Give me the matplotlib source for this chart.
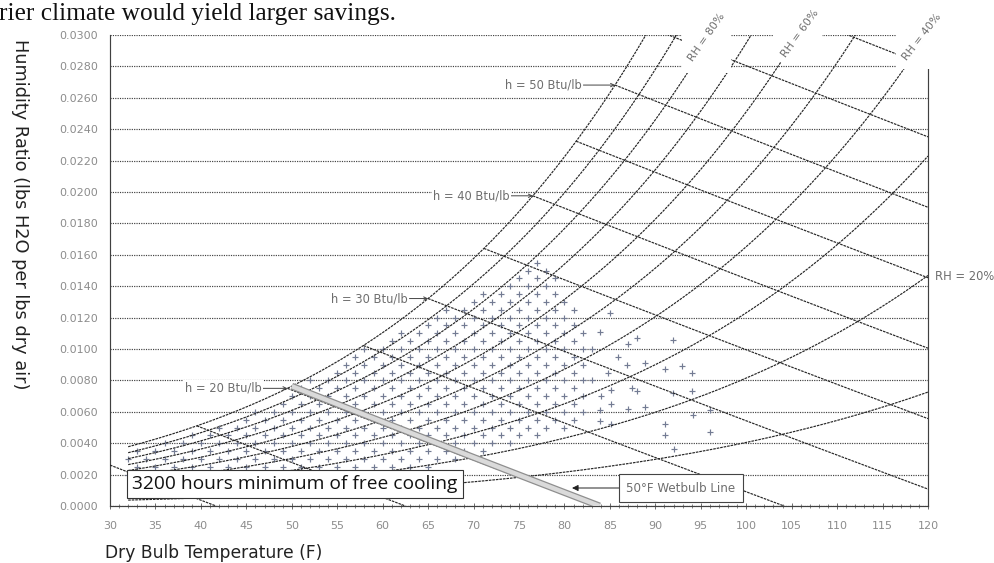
import numpy as np
import matplotlib
matplotlib.use("Agg")
import matplotlib.pyplot as plt
from matplotlib.patches import Rectangle

# ---------------- data ----------------
rh_levels = [0.1, 0.2, 0.3, 0.4, 0.5, 0.6, 0.7, 0.8, 0.9, 1.0]
h_levels = [10, 15, 20, 25, 30, 35, 40, 45, 50, 55, 60]
h_labelled = [20, 30, 40, 50]
wetbulb_temp = 50

x_ticks = list(range(30, 121, 5))
y_ticks = [0.000, 0.002, 0.004, 0.006, 0.008, 0.010, 0.012, 0.014, 0.016,
           0.018, 0.020, 0.022, 0.024, 0.026, 0.028, 0.030]

# weather-hour bins (dense region), per dry-bulb column: lowest / highest humidity bin
bin_temps = list(range(32, 83))
bin_w_low = [0.0020] * 34 + [0.0026, 0.0028, 0.0030, 0.0030,
             0.0032, 0.0033, 0.0035, 0.0036, 0.0038, 0.0040, 0.0042,
             0.0044, 0.0046, 0.0048, 0.0050, 0.0052, 0.0055]
bin_w_high = [0.0035, 0.0036, 0.0038, 0.0040, 0.0041, 0.0043, 0.0045, 0.0046,
              0.0048, 0.0050, 0.0052, 0.0053, 0.0055, 0.0058, 0.0060, 0.0063,
              0.0066, 0.0070, 0.0074, 0.0077, 0.0080, 0.0084, 0.0088, 0.0091,
              0.0094, 0.0097, 0.0100, 0.0103, 0.0106, 0.0109, 0.0111, 0.0113,
              0.0116, 0.0119, 0.0122, 0.0125, 0.0128, 0.0130, 0.0132, 0.0135,
              0.0138, 0.0142, 0.0146, 0.0150, 0.0153, 0.0155, 0.0155, 0.0145,
              0.0135, 0.0125, 0.0118]
bin_w_step = 0.0005

# sparse hours at high dry-bulb
sparse_t = [83.0, 83.0, 83.9, 83.9, 83.9, 84.0, 84.8, 85.0, 85.1, 85.1, 85.1,
            85.9, 86.9, 87.0, 87.0, 87.4, 88.0, 88.0, 88.9, 88.9, 91.1, 91.1,
            91.1, 91.9, 91.9, 92.1, 92.9, 94.0, 94.0, 94.1, 96.0, 96.0]
sparse_w = [0.0100, 0.0080, 0.0111, 0.0061, 0.0054, 0.0070, 0.0085, 0.0123,
            0.0074, 0.0065, 0.0052, 0.0095, 0.0090, 0.0103, 0.0062, 0.0075,
            0.0107, 0.0073, 0.0091, 0.0063, 0.0087, 0.0052, 0.0045, 0.0106,
            0.0072, 0.0036, 0.0089, 0.0085, 0.0073, 0.0058, 0.0061, 0.0047]

# ---------------- psychrometrics ----------------
P_ATM = 14.696


def p_sat(t_f):
    tr = np.asarray(t_f, dtype=float) + 459.67
    c8, c9, c10 = -1.0440397e4, -1.1294650e1, -2.7022355e-2
    c11, c12, c13 = 1.2890360e-5, -2.4780681e-9, 6.5459673
    return np.exp(c8 / tr + c9 + c10 * tr + c11 * tr ** 2 + c12 * tr ** 3 + c13 * np.log(tr))


def w_rh(t_f, rh):
    pw = rh * p_sat(t_f)
    return 0.622 * pw / (P_ATM - pw)


def enthalpy(t_f, w):
    return 0.240 * t_f + w * (1061 + 0.444 * t_f)


def t_sat_for_h(h):
    lo, hi = -20.0, 150.0
    for _ in range(80):
        mid = 0.5 * (lo + hi)
        if enthalpy(mid, w_rh(mid, 1.0)) > h:
            hi = mid
        else:
            lo = mid
    return 0.5 * (lo + hi)


# ---------------- figure ----------------
W_PX, H_PX = 995, 563
fig = plt.figure(figsize=(W_PX / 100, H_PX / 100), dpi=100)
ax = fig.add_axes([110 / W_PX, 1 - 506 / H_PX, (928 - 110) / W_PX, (506 - 35) / H_PX])
ax.set_xlim(30, 120)
ax.set_ylim(0, 0.030)

line_col = "#262626"
grid_col = "#404040"
dot_style = (0, (1, 1))
dash_style = (0, (2.2, 0.8))

ax.set_axisbelow(True)
ax.set_yticks(y_ticks)
ax.set_yticklabels([f"{v:.4f}" for v in y_ticks])
ax.set_xticks(x_ticks)
ax.set_xticklabels([str(v) for v in x_ticks])
ax.set_xticks(range(30, 121), minor=True)
ax.yaxis.grid(True, linestyle=dot_style, color=grid_col, linewidth=0.85)
ax.tick_params(axis="y", length=0, pad=8.5, labelsize=8, labelcolor="#8c8c8c")
ax.tick_params(axis="x", which="major", direction="inout", length=4, width=0.6,
               color="#555555", pad=9, labelsize=8, labelcolor="#8c8c8c")
ax.tick_params(axis="x", which="minor", direction="inout", length=2.5, width=0.5,
               color="#555555")
for s in ["left", "right", "bottom"]:
    ax.spines[s].set_linestyle(dot_style)
    ax.spines[s].set_color(grid_col)
    ax.spines[s].set_linewidth(0.85)
ax.spines["top"].set_visible(False)

# scatter of hours
pts_t, pts_w = [], []
for t, lo, hi in zip(bin_temps, bin_w_low, bin_w_high):
    k0 = 1 if t % 2 else 0
    k = int(np.ceil(lo / bin_w_step))
    while k * bin_w_step <= hi + 1e-9:
        if k % 2 == k0:
            pts_t.append(t)
            pts_w.append(k * bin_w_step)
        k += 1
pts_t += sparse_t
pts_w += sparse_w
ax.scatter(pts_t, pts_w, marker="+", s=17, linewidths=0.85, color="#737b93", zorder=2)

# RH curves
t_curve = np.linspace(32, 120, 500)
for rh in rh_levels:
    ax.plot(t_curve, w_rh(t_curve, rh), color=line_col, lw=0.85, ls=dash_style, zorder=3)

# enthalpy lines
for h in h_levels:
    t0 = max(t_sat_for_h(h), 30.0)
    t1 = min(120.0, h / 0.240)
    tt = np.linspace(t0, t1, 50)
    ww = (h - 0.240 * tt) / (1061 + 0.444 * tt)
    ax.plot(tt, ww, color=line_col, lw=0.85, ls=dash_style, zorder=3)

# 50F wet-bulb line
ws_wb = w_rh(wetbulb_temp, 1.0)
t_end = wetbulb_temp + (1093 - 0.556 * wetbulb_temp) * ws_wb / 0.240
tw = np.linspace(wetbulb_temp, t_end, 50)
ww = ((1093 - 0.556 * wetbulb_temp) * ws_wb - 0.240 * (tw - wetbulb_temp)) / \
     (1093 + 0.444 * tw - wetbulb_temp)
ax.plot(tw, ww, color="#8f8f8f", lw=5.0, solid_capstyle="butt", zorder=4)
ax.plot(tw, ww, color="#dadada", lw=3.2, solid_capstyle="butt", zorder=4.1)

# enthalpy labels
small = dict(fontsize=8.3, color="#6e6e6e")
h_arrow_len = [2.86, 2.2, 2.53, 3.63]
for h, dl in zip(h_labelled, h_arrow_len):
    ts = t_sat_for_h(h)
    wsat = w_rh(ts, 1.0)
    ax.annotate(f"h = {h} Btu/lb", xy=(ts, wsat), xytext=(ts - dl, wsat),
                ha="right", va="center", zorder=7, **small,
                bbox=dict(facecolor="white", edgecolor="none", pad=1.0),
                arrowprops=dict(arrowstyle="->", lw=0.7, color="#444444",
                                shrinkA=0, shrinkB=0, mutation_scale=6))


# white masks behind RH labels (pixel boxes -> data)
def px2data(x, y):
    return 30 + (x - 110) / ((928 - 110) / 90), (506 - y) / ((506 - 35) / 0.03)


for (x0, x1, y1) in [(682, 731, 73), (773, 822, 62), (896, 990, 69)]:
    d0 = px2data(x0, y1)
    d1 = px2data(x1, -20)
    ax.add_patch(Rectangle(d0, d1[0] - d0[0], d1[1] - d0[1], facecolor="white",
                           edgecolor="none", clip_on=False, zorder=6))

for label, (px, py), rot in [("RH = 80%", (707, 37), 55), ("RH = 60%", (800, 33), 54),
                             ("RH = 40%", (922, 37), 52)]:
    tx, ty = px2data(px, py)
    ax.text(tx, ty, label, rotation=rot, ha="center", va="center",
            rotation_mode="anchor", clip_on=False, zorder=7, fontsize=7.8, color="#6e6e6e")

tx, ty = px2data(935, 276)
ax.text(tx, ty, "RH = 20%", ha="left", va="center", clip_on=False, zorder=7, **small)

# annotation boxes
tx, ty = px2data(295, 484)
ax.text(tx, ty, "3200 hours minimum of free cooling", family="Open Sans",
        fontsize=13.8, color="#111111", ha="center", va="center", zorder=8,
        bbox=dict(boxstyle="square,pad=0.28", facecolor="white", edgecolor="#333333", lw=0.8))

bx, by = px2data(681, 488)
ax_, ay_ = px2data(572, 488)
ax.annotate("50°F Wetbulb Line", xy=(ax_, ay_), xytext=(bx, by), ha="center", va="center",
            fontsize=8.6, color="#6e6e6e", zorder=8,
            bbox=dict(boxstyle="square,pad=0.6", facecolor="white", edgecolor="#444444", lw=0.8),
            arrowprops=dict(arrowstyle="-|>", lw=0.7, color="#222222", shrinkA=0, shrinkB=0,
                            mutation_scale=9))

# axis titles and clipped caption
fig.text(20 / W_PX, 1 - 214 / H_PX, "Humidity Ratio (lbs H2O per lbs dry air)",
         rotation=270, ha="center", va="center", family="DejaVu Sans", fontsize=12.8,
         color="#222222")
fig.text(105 / W_PX, 1 - 553 / H_PX, "Dry Bulb Temperature (F)", ha="left", va="center",
         family="DejaVu Sans", fontsize=12.3, color="#222222")
fig.text(-1 / W_PX, 1 - 20 / H_PX, "rier climate would yield larger savings.",
         family="Liberation Serif", fontsize=18.3, ha="left", va="baseline", color="#111111")

fig.savefig("out.png", dpi=100)
